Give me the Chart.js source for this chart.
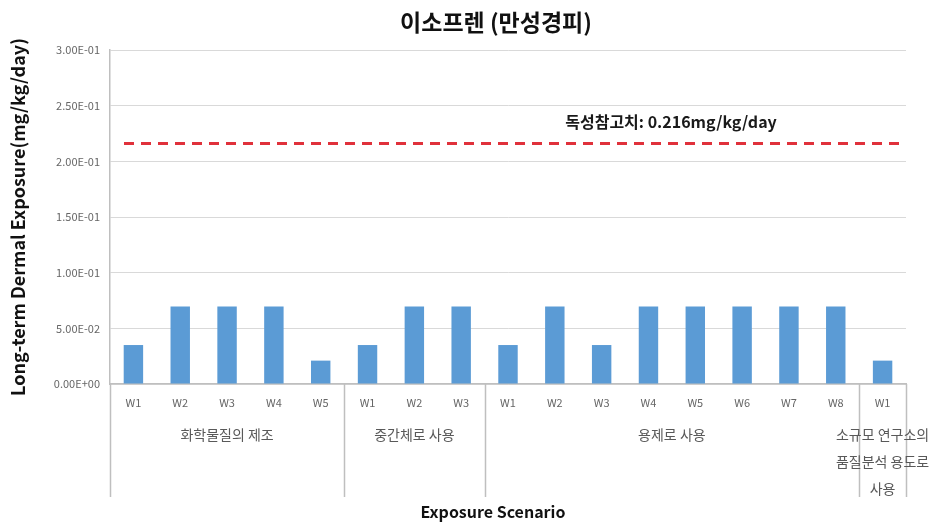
<!DOCTYPE html>
<html>
<head>
<meta charset="utf-8">
<script src="https://cdn.jsdelivr.net/npm/chart.js@4/dist/chart.umd.min.js"></script>
<style>
  html, body { margin: 0; padding: 0; background: #fff; }
  #wrap { width: 929px; height: 527px; }
</style>
</head>
<body>
<div id="wrap"><canvas id="c" width="929" height="527"></canvas></div>
<script>
// Chronic dermal exposure of isoprene per worker and use scenario
const chartTitle = '이소프렌 (만성경피)';
const xAxisTitle = 'Exposure Scenario';
const yAxisTitle = 'Long-term Dermal Exposure(mg/kg/day)';

const workers = ['W1', 'W2', 'W3', 'W4', 'W5',
                 'W1', 'W2', 'W3',
                 'W1', 'W2', 'W3', 'W4', 'W5', 'W6', 'W7', 'W8',
                 'W1'];
const exposure = [0.035, 0.0695, 0.0695, 0.0695, 0.021,
                  0.035, 0.0695, 0.0695,
                  0.035, 0.0695, 0.035, 0.0695, 0.0695, 0.0695, 0.0695, 0.0695,
                  0.021];

const scenarioNames = [['화학물질의 제조'], ['중간체로 사용'], ['용제로 사용'],
                       ['소규모 연구소의', '품질분석 용도로', '사용']];
const scenarioSizes = [5, 3, 8, 1];

const referenceDose = 0.216;
const referenceLabel = '독성참고치: 0.216mg/kg/day';

const yMin = 0, yMax = 0.3, yStep = 0.05;

const FONT = '"Noto Sans CJK KR", "Noto Sans", sans-serif';

// 3.00E-01 style tick text
function sci(v) {
  const parts = Number(v).toExponential(2).split('e');
  const n = parseInt(parts[1], 10);
  return parts[0] + 'E' + (n < 0 ? '-' : '+') + String(Math.abs(n)).padStart(2, '0');
}

const annotations = {
  id: 'annotations',
  afterDatasetsDraw(chart) {
    const ctx = chart.ctx;
    const y = chart.scales.y;
    const area = chart.chartArea;

    // reference dose line
    const ry = y.getPixelForValue(referenceDose);
    ctx.save();
    ctx.strokeStyle = '#E0313B';
    ctx.lineWidth = 3;
    ctx.setLineDash([10, 7]);
    ctx.beginPath();
    ctx.moveTo(area.left + 14, ry);
    ctx.lineTo(area.right - 4, ry);
    ctx.stroke();
    ctx.setLineDash([]);
    ctx.fillStyle = '#1a1a1a';
    ctx.font = 'bold 16px ' + FONT;
    ctx.textAlign = 'center';
    ctx.textBaseline = 'middle';
    ctx.fillText(referenceLabel, 671, ry - 22);
    ctx.restore();
  },
  afterDraw(chart) {
    const ctx = chart.ctx;
    const x = chart.scales.x;
    const area = chart.chartArea;
    const lineBottom = 497;

    // boundaries between scenario groups
    const edges = [area.left];
    let idx = 0;
    scenarioSizes.forEach((n, i) => {
      idx += n;
      if (i < scenarioSizes.length - 1) {
        edges.push((x.getPixelForValue(idx - 1) + x.getPixelForValue(idx)) / 2);
      }
    });
    edges.push(area.right);

    ctx.save();
    ctx.strokeStyle = '#BFBFBF';
    ctx.lineWidth = 1.5;
    edges.forEach(ex => {
      const px = Math.round(ex) + 0.5;
      ctx.beginPath();
      ctx.moveTo(px, area.bottom);
      ctx.lineTo(px, lineBottom);
      ctx.stroke();
    });

    // scenario names
    ctx.fillStyle = '#595959';
    ctx.font = '14px ' + FONT;
    ctx.textAlign = 'center';
    ctx.textBaseline = 'middle';
    let start = 0;
    scenarioSizes.forEach((n, i) => {
      const cx = (x.getPixelForValue(start) + x.getPixelForValue(start + n - 1)) / 2;
      scenarioNames[i].forEach((line, k) => {
        ctx.fillText(line, cx, 435 + k * 27);
      });
      start += n;
    });

    // titles
    ctx.fillStyle = '#111';
    ctx.font = 'bold 23px ' + FONT;
    ctx.fillText(chartTitle, 496, 22);
    ctx.font = 'bold 16px ' + FONT;
    ctx.fillText(xAxisTitle, 493, 512);
    ctx.restore();
  }
};

new Chart(document.getElementById('c'), {
  type: 'bar',
  data: {
    labels: workers,
    datasets: [{
      data: exposure,
      backgroundColor: '#5B9BD5',
      borderWidth: 0,
      categoryPercentage: 1,
      barPercentage: 0.415
    }]
  },
  options: {
    responsive: false,
    animation: false,
    devicePixelRatio: 1,
    layout: { padding: { left: 0, right: 23, top: 50, bottom: 0 } },
    plugins: {
      legend: { display: false },
      tooltip: { enabled: false },
      title: { display: false }
    },
    scales: {
      x: {
        grid: { display: false, drawTicks: false },
        border: { display: true, color: '#BFBFBF', width: 1.5 },
        ticks: {
          color: '#666',
          font: { family: FONT, size: 11 },
          padding: 12,
          maxRotation: 0,
          autoSkip: false
        },
        afterFit(s) { s.height = 143; }
      },
      y: {
        min: yMin,
        max: yMax,
        ticks: {
          stepSize: yStep,
          callback: v => sci(v),
          color: '#666',
          font: { family: FONT, size: 11 },
          padding: 10
        },
        grid: { color: '#D9D9D9', drawTicks: false },
        border: { display: true, color: '#BFBFBF', width: 1.5 },
        title: {
          display: true,
          text: yAxisTitle,
          color: '#111',
          font: { family: FONT, size: 18, weight: 'bold' },
          padding: { top: 7, bottom: 0 }
        },
        afterFit(s) { s.width = 110; }
      }
    }
  },
  plugins: [annotations]
});
</script>
</body>
</html>
